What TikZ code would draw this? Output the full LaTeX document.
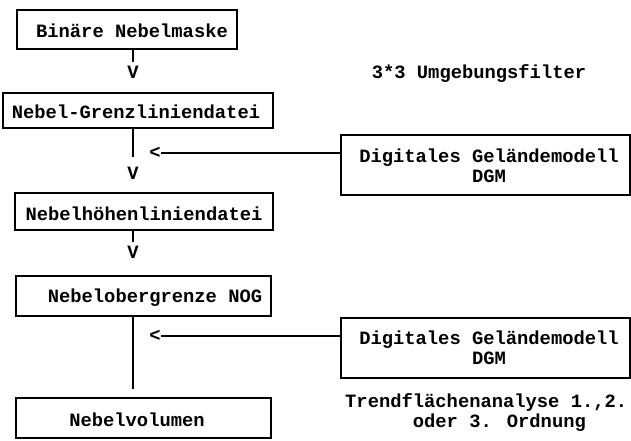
\documentclass[tikz,border=0pt]{standalone}
\usepackage{fontspec}
\setmainfont{Liberation Mono}
\begin{document}
\begin{tikzpicture}[x=1pt,y=-1pt,
  txt/.style={font=\fontsize{18.8}{20}\selectfont\bfseries, inner sep=0pt},
  box/.style={draw, line width=1.3pt, inner sep=0pt},
  tip/.style={txt, text depth=0pt},
  link/.style={line width=1.3pt}]
\useasboundingbox (0,0) rectangle (631,440);

% main chain of boxes
\node[box, minimum width=220pt, minimum height=39pt] (b1) at (127,29.5)
  {}; \node[txt] (t1) at (132,31) {Binäre Nebelmaske};
\node[box, minimum width=270pt, minimum height=35pt] (b2) at (138,110.5) {};
\node[txt] (t2) at (136,112) {Nebel-Grenzliniendatei};
\node[box, minimum width=258pt, minimum height=37pt] (b3) at (144,211.5) {};
\node[txt] (t3) at (144,214) {Nebelhöhenliniendatei};
\node[box, minimum width=255pt, minimum height=40pt] (b4) at (143.5,296) {};
\node[txt] (t4) at (155,298) {Nebelobergrenze NOG};
\node[box, minimum width=255pt, minimum height=40pt] (b5) at (143.5,418) {};
\node[txt] (t5) at (137,420) {Nebelvolumen};

% terrain model boxes
\node[box, minimum width=289pt, minimum height=60pt] (r1) at (485.5,165) {};
\node[txt, align=center] (tr1) at (489,166) {Digitales Geländemodell\\DGM};
\node[box, minimum width=289pt, minimum height=60pt] (r2) at (485.5,348) {};
\node[txt, align=center] (tr2) at (489,348) {Digitales Geländemodell\\DGM};

% free annotations
\node[txt] (f1) at (479,74) {3*3 Umgebungsfilter};
\node[txt, align=left, anchor=west] (f2) at (345,413)
  {Trendflächenanalyse 1.,2.\\\phantom{xxxxxx}oder 3. Ordnung};

% arrow heads written as letters
\node[tip] (v1) at (133,72) {V};
\node[tip] (v2) at (133,173) {V};
\node[tip] (v3) at (133,252) {V};
\node[tip] (l1) at (155,153) {<};
\node[tip] (l2) at (155,336) {<};
\coordinate (axis) at (133,0);

% connectors
\draw[link, shorten >=4pt] (b1.south -| v1) -- (v1.north);
\draw[link, shorten >=10pt] (b2.south -| v2) -- (v2.north);
\draw[link, shorten >=4pt] (b3.south -| v3) -- (v3.north);
\draw[link, shorten >=8pt] (b4.south -| axis) -- (b5.north -| axis);
\draw[link] (l1 -| r1.west) -- (l1.east);
\draw[link] (l2 -| r2.west) -- (l2.east);
\end{tikzpicture}
\end{document}
